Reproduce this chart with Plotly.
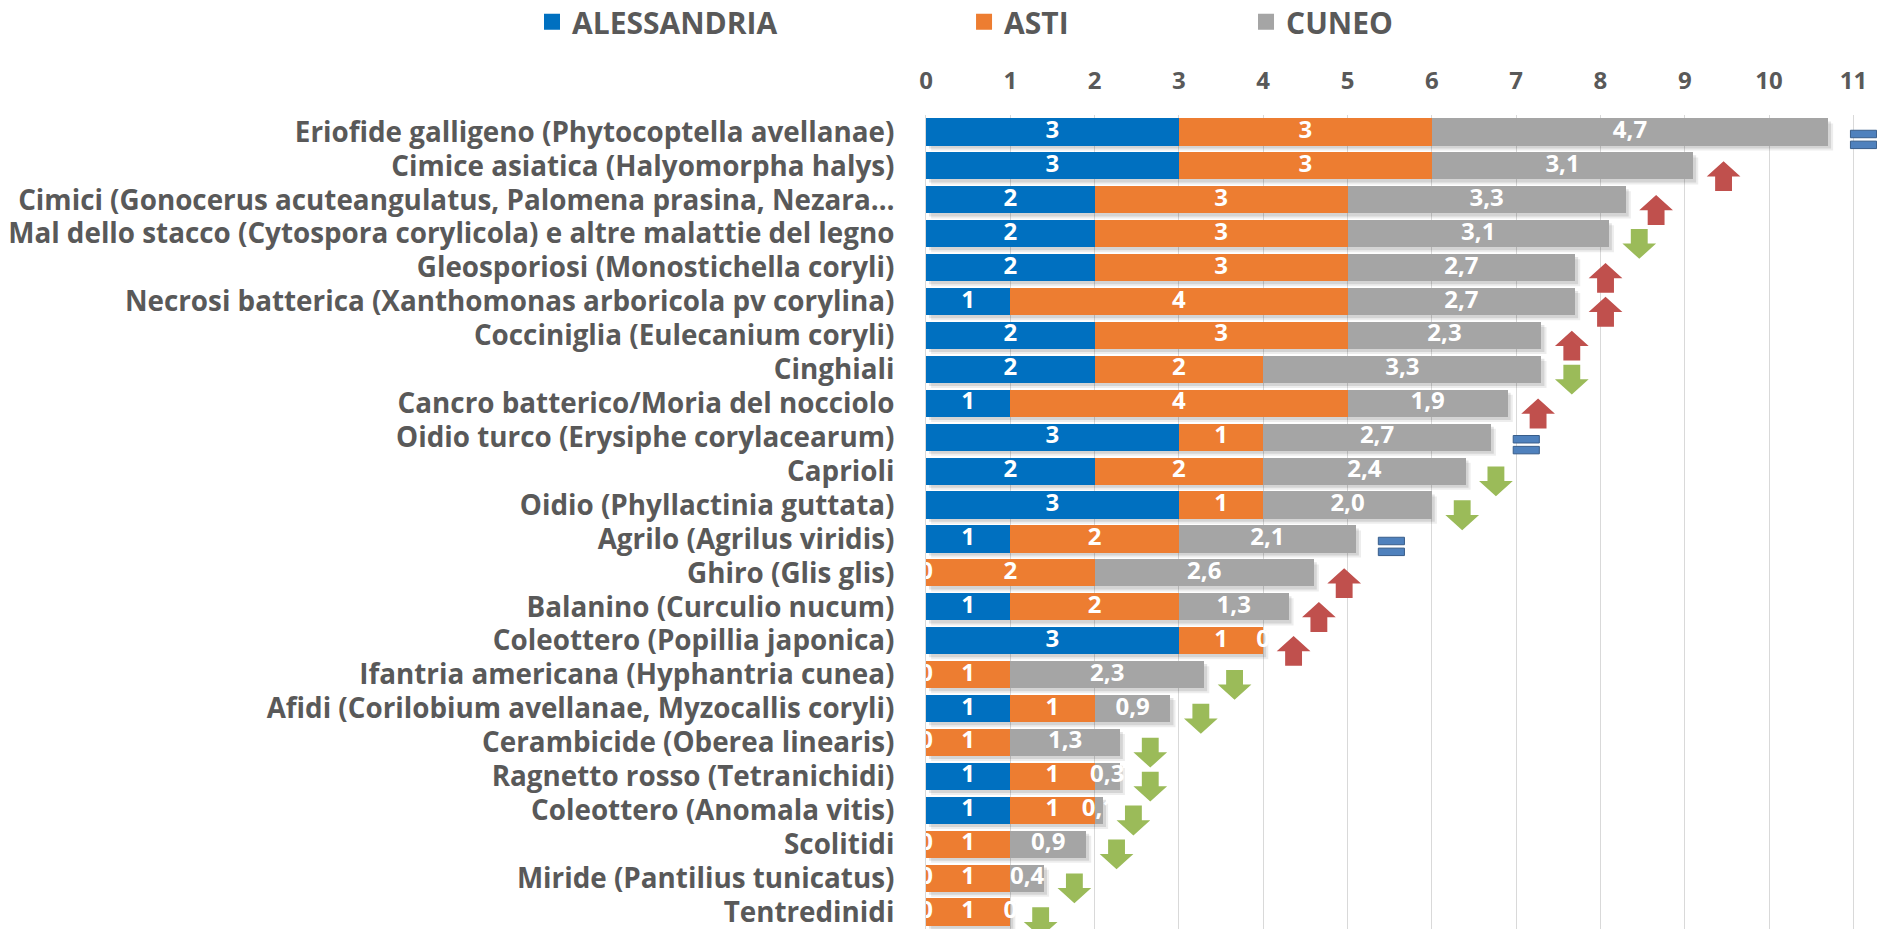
import plotly.graph_objects as go

categories = [
    "Eriofide galligeno (Phytocoptella avellanae)",
    "Cimice asiatica (Halyomorpha halys)",
    "Cimici (Gonocerus acuteangulatus, Palomena prasina, Nezara…",
    "Mal dello stacco (Cytospora corylicola) e altre malattie del legno",
    "Gleosporiosi (Monostichella coryli)",
    "Necrosi batterica (Xanthomonas arboricola pv corylina)",
    "Cocciniglia (Eulecanium coryli)",
    "Cinghiali",
    "Cancro batterico/Moria del nocciolo",
    "Oidio turco (Erysiphe corylacearum)",
    "Caprioli",
    "Oidio (Phyllactinia guttata)",
    "Agrilo (Agrilus viridis)",
    "Ghiro (Glis glis)",
    "Balanino (Curculio nucum)",
    "Coleottero (Popillia japonica)",
    "Ifantria americana (Hyphantria cunea)",
    "Afidi (Corilobium avellanae, Myzocallis coryli)",
    "Cerambicide (Oberea linearis)",
    "Ragnetto rosso (Tetranichidi)",
    "Coleottero (Anomala vitis)",
    "Scolitidi",
    "Miride (Pantilius tunicatus)",
    "Tentredinidi",
]
alessandria = [3, 3, 2, 2, 2, 1, 2, 2, 1, 3, 2, 3, 1, 0, 1, 3, 0, 1, 0, 1, 1, 0, 0, 0]
asti = [3, 3, 3, 3, 3, 4, 3, 2, 4, 1, 2, 1, 2, 2, 2, 1, 1, 1, 1, 1, 1, 1, 1, 1]
cuneo = [4.7, 3.1, 3.3, 3.1, 2.7, 2.7, 2.3, 3.3, 1.9, 2.7, 2.4, 2.0, 2.1, 2.6, 1.3, 0,
         2.3, 0.9, 1.3, 0.3, 0.1, 0.9, 0.4, 0]
trend = ["=", "up", "up", "down", "up", "up", "up", "down", "up", "=", "down", "down",
         "=", "up", "up", "up", "down", "down", "down", "down", "down", "down", "down", "down"]
series_names = ["ALESSANDRIA", "ASTI", "CUNEO"]
x_ticks = list(range(0, 12))

C_BLUE = "#0070C0"
C_ORANGE = "#ED7D31"
C_GRAY = "#A5A5A5"
C_UP = "#C0504D"
C_DOWN = "#9BBB59"
C_EQ = "#4F81BD"
TXT = "#595959"
FONT = "Open Sans"

n = len(categories)
ys = list(range(n))
series = [alessandria, asti, cuneo]
colors = [C_BLUE, C_ORANGE, C_GRAY]
legends = ["legend", "legend2", "legend3"]
totals = [a + b + c for a, b, c in zip(alessandria, asti, cuneo)]

fig = go.Figure()
for name, vals, col in zip(series_names, series, colors):
    fig.add_trace(go.Bar(
        y=ys, x=vals, orientation="h", name=name, showlegend=False,
        marker=dict(color=col, line=dict(width=0)),
        hoverinfo="skip",
    ))
# legend entries (larger square markers)
for name, col, lg in zip(series_names, colors, legends):
    fig.add_trace(go.Scatter(
        x=[None], y=[None], mode="markers", name=name, legend=lg,
        marker=dict(symbol="square", size=18, color=col),
        hoverinfo="skip",
    ))

# data labels
lx, ly, lt = [], [], []
for i in range(n):
    base = 0.0
    for k, vals in enumerate(series):
        v = vals[i]
        lx.append(base + v / 2)
        ly.append(i)
        if k < 2:
            lt.append(str(int(v)))
        else:
            lt.append("0" if v == 0 else f"{v:.1f}".replace(".", ","))
        base += v
fig.add_trace(go.Scatter(
    x=lx, y=ly, text=lt, mode="text", showlegend=False, hoverinfo="skip",
    textfont=dict(family=FONT, size=24, color="white", weight="bold"),
    cliponaxis=True,
))

shapes = []
# soft bar shadows
for i in range(n):
    for dx, dy, a in ((0.06, 0.15, 0.07), (0.035, 0.09, 0.10)):
        shapes.append(dict(type="rect", xref="x", yref="y", layer="between",
                           x0=dx, x1=totals[i] + dx, y0=i - 0.4 + dy, y1=i + 0.4 + dy,
                           fillcolor=f"rgba(0,0,0,{a})", line=dict(width=0)))

# trend arrows
gap_arrow = 0.36
gap_eq = 0.42
for i in range(n):
    t = trend[i]
    if t in ("up", "down"):
        cx = totals[i] + gap_arrow
        cy = i + 0.3
        hw, sw = 0.2, 0.1
        h, hh = 0.44, 0.45
        if t == "up":
            tip, hb, bot = cy - h, cy - h + hh, cy + h
        else:
            tip, hb, bot = cy + h, cy + h - hh, cy - h
        path = (f"M {cx},{tip} L {cx+hw},{hb} L {cx+sw},{hb} L {cx+sw},{bot} "
                f"L {cx-sw},{bot} L {cx-sw},{hb} L {cx-hw},{hb} Z")
        shapes.append(dict(type="path", path=path, xref="x", yref="y",
                           fillcolor=C_UP if t == "up" else C_DOWN,
                           line=dict(width=0), layer="above"))
    else:
        cx = totals[i] + gap_eq
        cy = i + 0.22
        w = 0.155
        for dy in (-0.16, 0.16):
            shapes.append(dict(type="rect", xref="x", yref="y",
                               x0=cx - w, x1=cx + w, y0=cy + dy - 0.11, y1=cy + dy + 0.11,
                               fillcolor=C_EQ, line=dict(color="#385D8A", width=1),
                               layer="above"))

leg_common = dict(orientation="h", yanchor="middle", y=1.1145, xanchor="left",
                  font=dict(family=FONT, size=30, color=TXT, weight="bold"),
                  bgcolor="rgba(0,0,0,0)", itemwidth=30)

fig.update_layout(
    width=1877, height=929,
    margin=dict(l=926, r=0, t=115, b=0, autoexpand=False),
    barmode="stack", bargap=0.2,
    plot_bgcolor="white", paper_bgcolor="white",
    shapes=shapes,
    legend=dict(x=-0.4143, **leg_common),
    legend2=dict(x=0.0400, **leg_common),
    legend3=dict(x=0.3365, **leg_common),
    xaxis=dict(
        side="top", range=[0, 11.28], tickvals=x_ticks,
        ticktext=[str(v) for v in x_ticks], automargin=False,
        showgrid=True, gridcolor="#D9D9D9", gridwidth=1, zeroline=False,
        showline=False, ticks="", ticklabelstandoff=20, ticklabeloverflow="allow",
        tickfont=dict(family=FONT, size=24, color=TXT, weight="bold"),
    ),
    yaxis=dict(
        range=[n - 0.5, -0.5], tickvals=ys, ticktext=categories, automargin=False,
        showgrid=False, zeroline=False, showline=True, linecolor="#D9D9D9",
        ticks="", ticklabelstandoff=25, ticklabeloverflow="allow",
        tickfont=dict(family=FONT, size=27.8, color=TXT, weight="bold"),
    ),
    hovermode=False,
)

fig.write_html(
    "out.html",
    config={"displayModeBar": False},
    post_script="document.body.style.margin='0';document.body.style.overflow='hidden';",
)
